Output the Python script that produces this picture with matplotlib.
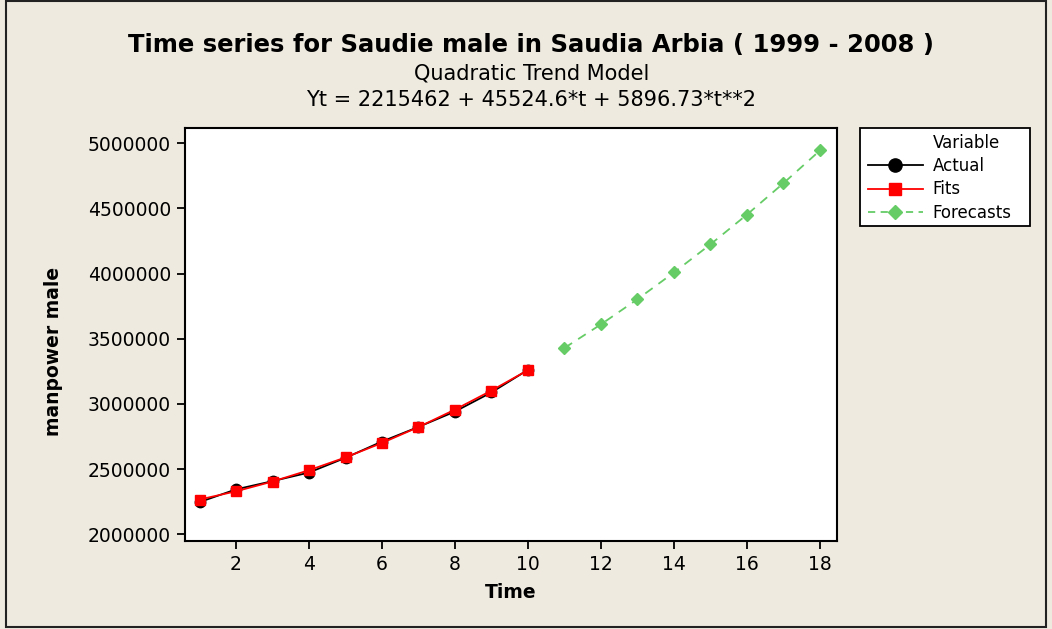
import numpy as np
import matplotlib
matplotlib.use("Agg")
import matplotlib.pyplot as plt
from matplotlib.patches import Rectangle
from matplotlib.lines import Line2D

# values
t_actual = [1, 2, 3, 4, 5, 6, 7, 8, 9, 10]
actual = [2247000, 2345000, 2408000, 2474000, 2587000, 2712000, 2824000, 2942000, 3089000, 3262000]
fits = [2267000, 2330000, 2405000, 2492000, 2590000, 2701000, 2823000, 2957000, 3103000, 3260000]
t_fore = [11, 12, 13, 14, 15, 16, 17, 18]
forecasts = [3430000, 3611000, 3804000, 4009000, 4225000, 4453000, 4694000, 4945000]

xticks = [2, 4, 6, 8, 10, 12, 14, 16, 18]
yticks = [2000000, 2500000, 3000000, 3500000, 4000000, 4500000, 5000000]

bg = "#EEEAE0"
green = "#66CC66"
W, H = 1052, 629

fig = plt.figure(figsize=(10.52, 6.29), dpi=100, facecolor=bg)
fig.patches.append(Rectangle((6 / W, 1 - 627 / H), 1040 / W, 626 / H,
                             transform=fig.transFigure, fill=False,
                             edgecolor="#222222", linewidth=1.5))
# legend box
fig.patches.append(Rectangle((860 / W, 1 - 226 / H), 170 / W, 98 / H,
                             transform=fig.transFigure, facecolor="white",
                             edgecolor="black", linewidth=1.3))

ax = fig.add_axes([0.1756, 0.1394, 0.6197, 0.6566])
ax.set_facecolor("white")

ax.plot(t_actual, actual, color="black", linewidth=1.3, marker="o", markersize=7.5, zorder=3)
ax.plot(t_actual, fits, color="red", linewidth=1.3, marker="s", markersize=6.5, zorder=4)
ax.plot(t_fore, forecasts, color=green, linewidth=1.3, linestyle=(0, (5, 4)),
        marker="D", markersize=6, zorder=3)

ax.set_xlim(0.595, 18.457)
ax.set_ylim(1946300, 5115000)
ax.set_xticks(xticks)
ax.set_yticks(yticks)
ax.set_yticklabels([str(v) for v in yticks])
ax.tick_params(labelsize=13.5, length=6, width=1.3, color="black", pad=4)
for s in ax.spines.values():
    s.set_linewidth(1.5)
    s.set_color("black")

ax.set_xlabel("Time", fontsize=13.5, fontweight="bold", labelpad=6)
ax.set_ylabel("manpower male", fontsize=13.5, fontweight="bold")
ax.yaxis.set_label_coords(-0.187, 0.46)

fig.text(0.505, 1 - 45 / H, "Time series for Saudie male in Saudia Arbia ( 1999 - 2008 )",
         ha="center", va="center", fontsize=17.5, fontweight="bold")
fig.text(0.505, 1 - 73 / H, "Quadratic Trend Model", ha="center", va="center", fontsize=15)
fig.text(0.505, 1 - 100 / H, "Yt = 2215462 + 45524.6*t + 5896.73*t**2",
         ha="center", va="center", fontsize=15)

handles = [
    Line2D([], [], linestyle="none"),
    Line2D([], [], color="black", linewidth=1.3, marker="o", markersize=9.5),
    Line2D([], [], color="red", linewidth=1.3, marker="s", markersize=8.5),
    Line2D([], [], color=green, linewidth=1.3, linestyle=(0, (4, 3)), marker="D", markersize=7.5),
]
leg = fig.legend(handles, ["Variable", "Actual", "Fits", "Forecasts"],
                 loc="upper left", bbox_to_anchor=(862 / W, 1 - 128 / H),
                 fontsize=12, frameon=False, borderpad=0.35, handlelength=3.3,
                 labelspacing=0.32, handletextpad=0.6, borderaxespad=0)

fig.savefig("out.png", dpi=100, facecolor=bg)
